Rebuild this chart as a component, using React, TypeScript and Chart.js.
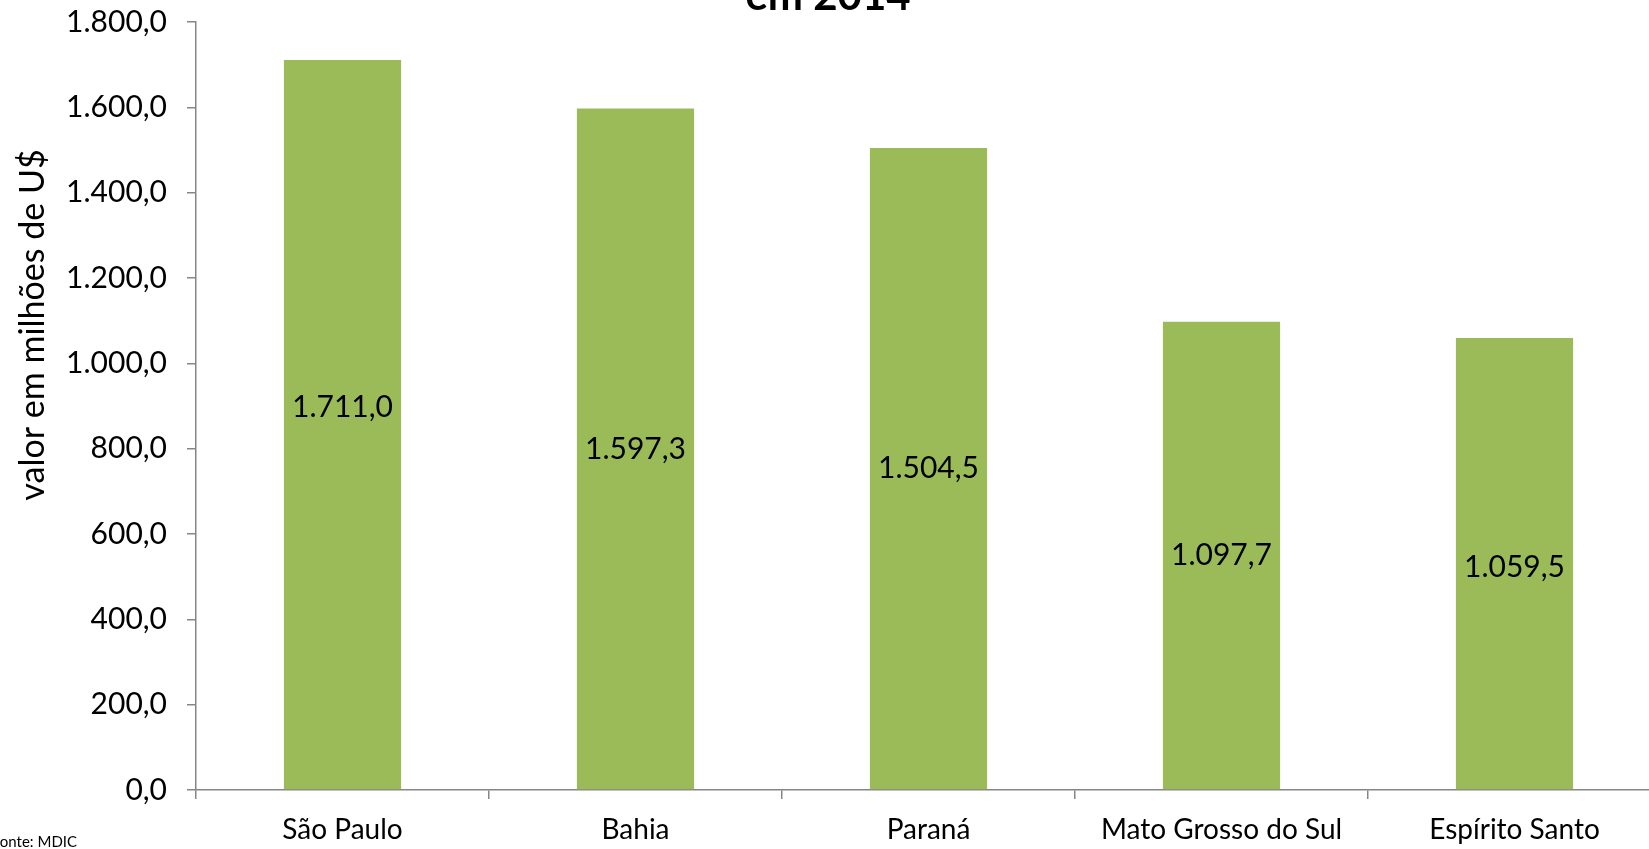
import React, { useEffect, useRef } from "react";
import { Chart, registerables } from "chart.js";

Chart.register(...registerables);

const categories = ["São Paulo", "Bahia", "Paraná", "Mato Grosso do Sul", "Espírito Santo"];
const values = [1711.0, 1597.3, 1504.5, 1097.7, 1059.5];
const yMin = 0;
const yMax = 1800;
const yStep = 200;
const titleText = "em 2014";
const yAxisTitle = "valor em milhões de U$";
const sourceText = "Fonte: MDIC";

const FONT = "Lato, 'Open Sans', sans-serif";
const AXIS_COLOR = "#868686";
const BAR_COLOR = "#9BBB59";

function fmt(v: number): string {
  const s = Math.abs(v).toFixed(1);
  const [i, d] = s.split(".");
  const ii = i.replace(/\B(?=(\d{3})+(?!\d))/g, ".");
  return (v < 0 ? "-" : "") + ii + "," + d;
}

const textPlugin = {
  id: "textPlugin",
  afterDatasetsDraw(chart: any, _args: any, opts: any) {
    const ctx = chart.ctx;
    const meta = chart.getDatasetMeta(0);
    const nudge: number[] = (opts && opts.labelNudge) || [];
    ctx.save();
    // bar value labels at bar centre
    ctx.font = `30px ${FONT}`;
    ctx.fillStyle = "#000";
    ctx.textAlign = "center";
    ctx.textBaseline = "middle";
    meta.data.forEach((bar: any, i: number) => {
      const v = chart.data.datasets[0].data[i];
      ctx.fillText(fmt(v), bar.x, (bar.y + bar.base) / 2 + (nudge[i] || 0));
    });
    // clipped title
    ctx.font = `bold 42px ${FONT}`;
    ctx.textAlign = "center";
    ctx.textBaseline = "alphabetic";
    ctx.fillText(titleText, 828, 10);
    // y axis title
    ctx.save();
    ctx.translate(33, 325);
    ctx.rotate(-Math.PI / 2);
    ctx.font = `34px ${FONT}`;
    ctx.textAlign = "center";
    ctx.textBaseline = "middle";
    ctx.fillText(yAxisTitle, 0, 0);
    ctx.restore();
    // source note
    ctx.font = `15px ${FONT}`;
    ctx.textAlign = "left";
    ctx.textBaseline = "alphabetic";
    ctx.fillText(sourceText, -8, 847);
    ctx.restore();
  },
};

export default function App() {
  const ref = useRef<HTMLCanvasElement | null>(null);
  useEffect(() => {
    document.body.style.margin = "0";
    document.body.style.overflow = "hidden";
    if (!ref.current) return;
    const chart = new Chart(ref.current, {
      type: "bar",
      data: {
        labels: categories,
        datasets: [
          {
            data: values,
            backgroundColor: BAR_COLOR,
            borderWidth: 0,
            categoryPercentage: 1,
            barPercentage: 0.4,
          },
        ],
      },
      options: {
        animation: false,
        responsive: true,
        maintainAspectRatio: false,
        layout: { padding: { left: 0, right: 39, top: 22, bottom: 0 } },
        plugins: {
          legend: { display: false },
          title: { display: false },
          tooltip: { enabled: false },
          textPlugin: { labelNudge: [-17, 0, 0, 0, 4] },
        } as any,
        scales: {
          x: {
            afterFit(scale: any) {
              scale.height = 59;
              scale.paddingLeft = 0;
              scale.paddingRight = 0;
            },
            grid: {
              offset: true,
              drawOnChartArea: false,
              drawTicks: true,
              tickLength: 9,
              color: AXIS_COLOR,
              lineWidth: 1.5,
            },
            border: { display: true, color: AXIS_COLOR, width: 1.5 },
            ticks: {
              color: "#000",
              font: { family: FONT, size: 28 },
              padding: 14,
              maxRotation: 0,
              autoSkip: false,
            },
          },
          y: {
            min: yMin,
            max: yMax,
            afterFit(scale: any) {
              scale.width = 196;
              scale.paddingTop = 0;
              scale.paddingBottom = 0;
            },
            grid: {
              drawOnChartArea: false,
              drawTicks: true,
              tickLength: 9,
              color: AXIS_COLOR,
              lineWidth: 1.5,
            },
            border: { display: true, color: AXIS_COLOR, width: 1.5 },
            ticks: {
              stepSize: yStep,
              color: "#000",
              font: { family: FONT, size: 30 },
              padding: 20,
              callback: (v: any) => fmt(Number(v)),
            },
          },
        },
      },
      plugins: [textPlugin],
    });
    return () => chart.destroy();
  }, []);
  return (
    <div
      style={{
        position: "fixed",
        left: 0,
        top: 0,
        width: "100vw",
        height: "100vh",
        overflow: "hidden",
        background: "#fff",
      }}
    >
      <div style={{ position: "absolute", left: 0, top: 0, width: "1700px", height: "849px" }}>
        <canvas ref={ref} />
      </div>
    </div>
  );
}
